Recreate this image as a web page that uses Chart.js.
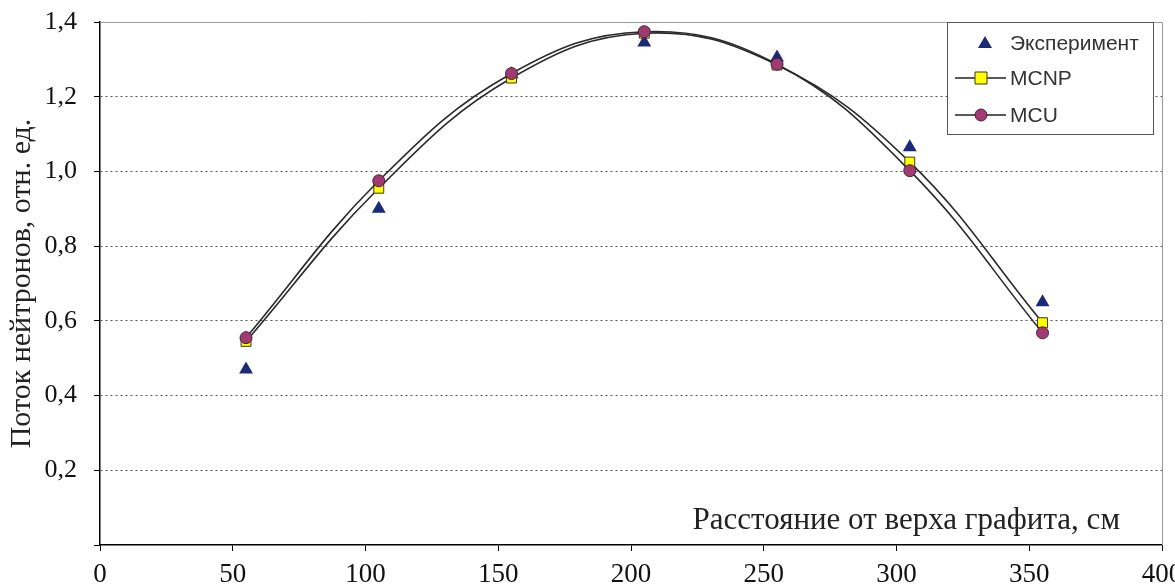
<!DOCTYPE html>
<html lang="ru">
<head>
  <meta charset="UTF-8">
  <title>Поток нейтронов</title>
  <style>
    body { margin: 0; background: #fff; }
    .wrap { width: 1175px; height: 586px; position: relative; }
    canvas { display: block; }
  </style>
</head>
<body>
  <div class="wrap"><canvas id="chart" width="1175" height="586"></canvas></div>

  <script src="https://cdn.jsdelivr.net/npm/chart.js"></script>
  <script>
    // Данные: расстояние от верха графита (см) и поток нейтронов (отн. ед.)
    const distances = [55, 105, 155, 205, 255, 305, 355];
    const experiment = [0.47, 0.90, 1.26, 1.345, 1.305, 1.065, 0.65];
    const mcnp = [0.545, 0.955, 1.25, 1.37, 1.285, 1.025, 0.595];
    const mcu = [0.555, 0.975, 1.262, 1.374, 1.287, 1.002, 0.568];
    const seriesNames = ['Эксперимент', 'MCNP', 'MCU'];
    const xTicks = [0, 50, 100, 150, 200, 250, 300, 350, 400];

    const toPoints = vals => distances.map((d, i) => ({ x: d, y: vals[i] }));
    const serif = '"Liberation Serif", "DejaVu Serif", serif';
    const sans = '"Liberation Sans", Arial, sans-serif';

    // Рамка области, подпись оси X внутри и легенда в рамке
    const decor = {
      id: 'decor',
      afterDatasetsDraw(chart) {
        const { ctx, chartArea: a } = chart;
        ctx.save();
        // серая рамка сверху и справа
        ctx.strokeStyle = '#9a9a9a';
        ctx.lineWidth = 1;
        ctx.beginPath();
        ctx.moveTo(a.left, a.top + 0.5);
        ctx.lineTo(a.right + 0.5, a.top + 0.5);
        ctx.lineTo(a.right + 0.5, a.bottom);
        ctx.stroke();

        // подпись оси X
        ctx.fillStyle = '#222';
        ctx.font = '31px ' + serif;
        ctx.textAlign = 'right';
        ctx.textBaseline = 'middle';
        ctx.fillText('Расстояние от верха графита, см', 1120, 521);

        // легенда
        const lx = 947, ly = 22, lw = 206, lh = 112;
        ctx.fillStyle = '#fff';
        ctx.fillRect(lx, ly, lw, lh);
        ctx.strokeStyle = '#555';
        ctx.strokeRect(lx + 0.5, ly + 0.5, lw, lh);

        ctx.font = '21px ' + sans;
        ctx.textAlign = 'left';
        const rows = [43, 78, 115];
        chart.data.datasets.forEach((ds, i) => {
          const y = rows[i];
          if (ds.showLine) {
            ctx.strokeStyle = '#222';
            ctx.lineWidth = 1.5;
            ctx.beginPath();
            ctx.moveTo(955, y);
            ctx.lineTo(1006, y);
            ctx.stroke();
          }
          ctx.fillStyle = ds.pointBackgroundColor;
          ctx.strokeStyle = ds.pointBorderColor;
          ctx.lineWidth = 1;
          ctx.beginPath();
          if (ds.pointStyle === 'triangle') {
            ctx.moveTo(985, y - 7); ctx.lineTo(992, y + 5); ctx.lineTo(978, y + 5); ctx.closePath();
            ctx.fill();
          } else if (ds.pointStyle === 'rect') {
            ctx.rect(975, y - 6, 12, 12); ctx.fill(); ctx.stroke();
          } else {
            ctx.arc(981, y, 6, 0, Math.PI * 2); ctx.fill(); ctx.stroke();
          }
          ctx.fillStyle = '#333';
          ctx.fillText(seriesNames[i], 1010, y + 1);
        });
        ctx.restore();
      }
    };

    new Chart(document.getElementById('chart'), {
      type: 'line',
      data: {
        datasets: [
          {
            label: seriesNames[0],
            data: toPoints(experiment),
            showLine: false,
            pointStyle: 'triangle',
            pointRadius: 8,
            pointBackgroundColor: '#1b2a78',
            pointBorderColor: '#1b2a78',
            pointBorderWidth: 0,
            order: 3
          },
          {
            label: seriesNames[1],
            data: toPoints(mcnp),
            showLine: true,
            borderColor: '#2a2a2a',
            borderWidth: 1.6,
            tension: 0.4,
            pointStyle: 'rect',
            pointRadius: 7,
            pointBackgroundColor: '#ffff00',
            pointBorderColor: '#3a3a10',
            pointBorderWidth: 1,
            order: 2
          },
          {
            label: seriesNames[2],
            data: toPoints(mcu),
            showLine: true,
            borderColor: '#2a2a2a',
            borderWidth: 1.6,
            tension: 0.4,
            pointStyle: 'circle',
            pointRadius: 6,
            pointBackgroundColor: '#a23a72',
            pointBorderColor: '#4a2040',
            pointBorderWidth: 1,
            order: 1
          }
        ]
      },
      options: {
        responsive: false,
        animation: false,
        layout: { padding: { top: 22, right: 13, left: 0, bottom: 0 } },
        plugins: { legend: { display: false }, tooltip: { enabled: false } },
        scales: {
          x: {
            type: 'linear',
            min: 0, max: 400,
            afterBuildTicks: s => { s.ticks = xTicks.map(v => ({ value: v })); },
            afterFit: s => { s.height = 41; s.paddingLeft = 0; s.paddingRight = 0; },
            grid: { drawOnChartArea: false, drawTicks: true, tickLength: 6, color: '#000' },
            border: { color: '#000', width: 1.5 },
            ticks: { color: '#111', font: { family: serif, size: 27 }, padding: 8, maxRotation: 0 }
          },
          y: {
            min: 0, max: 1.4,
            ticks: {
              stepSize: 0.2,
              color: '#111',
              font: { family: serif, size: 26 },
              padding: 17,
              callback: v => v === 0 ? '' : v.toFixed(1).replace('.', ',')
            },
            afterFit: s => { s.width = 100; s.paddingTop = 0; s.paddingBottom = 0; },
            grid: {
              color: c => (c.tick && (c.tick.value === 0 || Math.abs(c.tick.value - 1.4) < 1e-6)) ? 'rgba(0,0,0,0)' : '#555',
              tickColor: '#000',
              tickLength: 6,
              lineWidth: 1
            },
            border: { color: '#000', width: 1.5, dash: [2, 3] },
            title: {
              display: true,
              text: 'Поток нейтронов, отн. ед.',
              color: '#222',
              font: { family: serif, size: 30 },
              padding: { top: 4, bottom: 0 }
            }
          }
        }
      },
      plugins: [decor]
    });
  </script>
</body>
</html>
